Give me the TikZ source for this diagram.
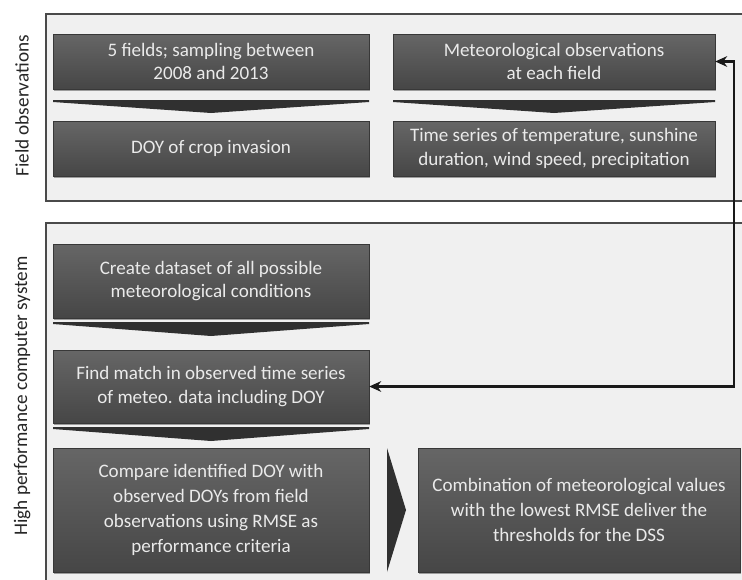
\documentclass[tikz,border=0pt]{standalone}
\usepackage{fontspec}
\setmainfont{Carlito}
\usetikzlibrary{shadows,arrows.meta}
\definecolor{panelfill}{HTML}{F0F0F0}
\definecolor{panelline}{HTML}{4A4A4A}
\definecolor{boxtop}{HTML}{666666}
\definecolor{boxbot}{HTML}{464646}
\definecolor{boxtext}{HTML}{EAEAEA}
\definecolor{chev}{HTML}{303030}
\tikzset{
  panel/.style={draw=panelline, line width=1.3pt, fill=panelfill},
  box/.style={rectangle, top color=boxtop, bottom color=boxbot, draw=boxbot!80!black, line width=0.3pt,
    text=boxtext, align=center, font=\fontsize{14.3}{17.5}\selectfont, inner sep=2pt,
    drop shadow={shadow xshift=1pt, shadow yshift=-1.2pt, opacity=0.35, fill=black}},
  chevron/.style={fill=chev, draw=none},
  sidelabel/.style={rotate=90, text=black!85, font=\fontsize{14.4}{17}\selectfont},
  feedback/.style={draw=black!90, line width=1.7pt, {Stealth[length=9pt,width=8pt]}-{Stealth[length=9pt,width=8pt]}}
}
\begin{document}
\begin{tikzpicture}[x=0.75pt,y=-0.75pt]
\useasboundingbox (0,0) rectangle (742,579);
\begin{scope}
\clip (0,0) rectangle (742,579);
\fill[white] (0,0) rectangle (742,579);
% panels
\draw[panel] (46,14) rectangle (770,201);
\draw[panel] (46,223) rectangle (770,600);
% side labels
\node[sidelabel] (lab1) at (22,106) {Field observations};
\node[sidelabel] (lab2) at (22,396) {High performance computer system};
% boxes
\node[box, minimum width=237pt, minimum height=41.25pt] (A) at (211,61.5) {5 fields; sampling between\\2008 and 2013};
\node[box, minimum width=237pt, minimum height=41.25pt] (B) at (211,148.5) {DOY of crop invasion};
\node[box, minimum width=241.5pt, minimum height=41.25pt] (C) at (554,61.5) {Meteorological observations\\at each field};
\node[box, minimum width=241.5pt, minimum height=41.25pt] (D) at (554,148.5) {Time series of temperature, sunshine\\duration, wind speed, precipitation};
\node[box, minimum width=237pt, minimum height=55.5pt] (E) at (211,281) {Create dataset of all possible\\meteorological conditions};
\node[box, minimum width=237pt, minimum height=54.75pt] (F) at (211,386.5) {Find match in observed time series\\of meteo. data including DOY};
\node[box, minimum width=237pt, minimum height=93pt, font=\fontsize{14.3}{18.75}\selectfont] (G) at (211,510) {Compare identified DOY with\\observed DOYs from field\\observations using RMSE as\\performance criteria};
\node[box, minimum width=241.5pt, minimum height=93pt, font=\fontsize{14.3}{18.75}\selectfont] (H) at (579,510) {Combination of meteorological values\\with the lowest RMSE deliver the\\thresholds for the DSS};
% chevrons
\fill[chevron] (53,100) -- (369,100) -- (369,102) -- (211,113) -- (53,102) -- cycle;
\fill[chevron] (393,100) -- (715,100) -- (715,102) -- (554,113) -- (393,102) -- cycle;
\fill[chevron] (53,322) -- (369,322) -- (369,324) -- (211,336) -- (53,324) -- cycle;
\fill[chevron] (53,427) -- (369,427) -- (369,429) -- (211,441) -- (53,429) -- cycle;
\fill[chevron] (387,448) -- (406,510) -- (387,572) -- cycle;
% feedback connector
\coordinate (R) at (734,0);
\draw[feedback] (C.east) -- (C.east -| R) -- (F.east -| R) -- (F.east);
\end{scope}
\end{tikzpicture}
\end{document}
